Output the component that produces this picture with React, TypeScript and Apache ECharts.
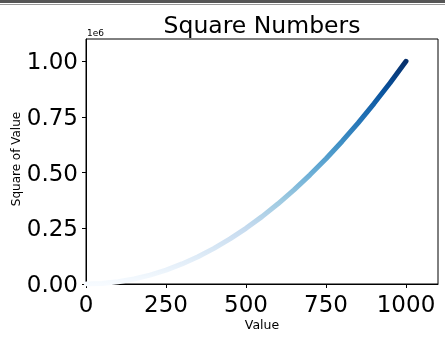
import React, { useEffect, useRef } from "react";
import * as echarts from "echarts";

const xValues = [1, 50, 100, 150, 200, 250, 300, 350, 400, 450, 500, 550, 600, 650, 700, 750, 800, 850, 900, 950, 1000];
const yValues = [1, 2500, 10000, 22500, 40000, 62500, 90000, 122500, 160000, 202500, 250000, 302500, 360000, 422500, 490000, 562500, 640000, 722500, 810000, 902500, 1000000];
const xTicks = [0, 250, 500, 750, 1000];
const yTicks = [0, 250000, 500000, 750000, 1000000];
const bluesColormap = ["#f7fbff", "#deebf7", "#c6dbef", "#9ecae1", "#6baed6", "#4292c6", "#2171b5", "#08519c", "#08306b"];

const FONT = "DejaVu Sans";

export default function App() {
  const ref = useRef<HTMLDivElement>(null);
  useEffect(() => {
    if (!ref.current) return;
    const chart = echarts.init(ref.current, undefined, { renderer: "svg" });
    const data = xValues.map((x, i) => [x, yValues[i]]);
    chart.setOption({
      animation: false,
      textStyle: { fontFamily: FONT },
      grid: {
        left: 86,
        right: 7,
        top: 39,
        bottom: 57,
        containLabel: false,
        outerBoundsMode: "none",
        show: true,
        borderColor: "#000",
        borderWidth: 1,
        backgroundColor: "transparent",
      },
      visualMap: {
        type: "continuous",
        show: false,
        dimension: 1,
        min: 1,
        max: 1000000,
        inRange: { color: bluesColormap },
      },
      xAxis: {
        type: "value",
        min: 0,
        max: 1100,
        axisLine: { show: true, lineStyle: { color: "#000", width: 1 } },
        axisTick: { show: true, length: 4, lineStyle: { color: "#000" }, customValues: xTicks },
        axisLabel: {
          fontSize: 23,
          color: "#000",
          margin: 8,
          customValues: xTicks,
          fontFamily: FONT,
          formatter: (v: number) => String(v),
        },
        splitLine: { show: false },
      },
      yAxis: {
        type: "value",
        min: 0,
        max: 1100000,
        axisLine: { show: true, lineStyle: { color: "#000", width: 1 } },
        axisTick: { show: true, length: 4, lineStyle: { color: "#000" }, customValues: yTicks },
        axisLabel: {
          fontSize: 23,
          color: "#000",
          margin: 8,
          customValues: yTicks,
          fontFamily: FONT,
          formatter: (v: number) => (v / 1e6).toFixed(2),
        },
        splitLine: { show: false },
      },
      graphic: [
        { type: "rect", shape: { x: 0, y: 0, width: 445, height: 3 }, style: { fill: "#555" } },
        { type: "rect", shape: { x: 0, y: 4, width: 445, height: 1 }, style: { fill: "#999" } },
        {
          type: "text",
          x: 262,
          y: 24.5,
          style: { text: "Square Numbers", font: `23.5px "${FONT}"`, fill: "#000", textAlign: "center", textVerticalAlign: "middle" },
        },
        {
          type: "text",
          x: 87,
          y: 33,
          style: { text: "1e6", font: `9px "${FONT}"`, fill: "#000", textAlign: "left", textVerticalAlign: "middle" },
        },
        {
          type: "text",
          x: 262,
          y: 324,
          style: { text: "Value", font: `12.5px "${FONT}"`, fill: "#000", textAlign: "center", textVerticalAlign: "middle" },
        },
        {
          type: "text",
          x: 15.5,
          y: 159,
          rotation: Math.PI / 2,
          style: { text: "Square of Value", font: `12px "${FONT}"`, fill: "#000", textAlign: "center", textVerticalAlign: "middle" },
        },
      ],
      series: [
        {
          type: "line",
          data,
          showSymbol: false,
          symbol: "none",
          smooth: false,
          lineStyle: { width: 5, cap: "round", join: "round" },
        },
      ],
    });
    return () => chart.dispose();
  }, []);
  return <div ref={ref} style={{ position: "fixed", left: 0, top: 0, width: 445, height: 341 }} />;
}
